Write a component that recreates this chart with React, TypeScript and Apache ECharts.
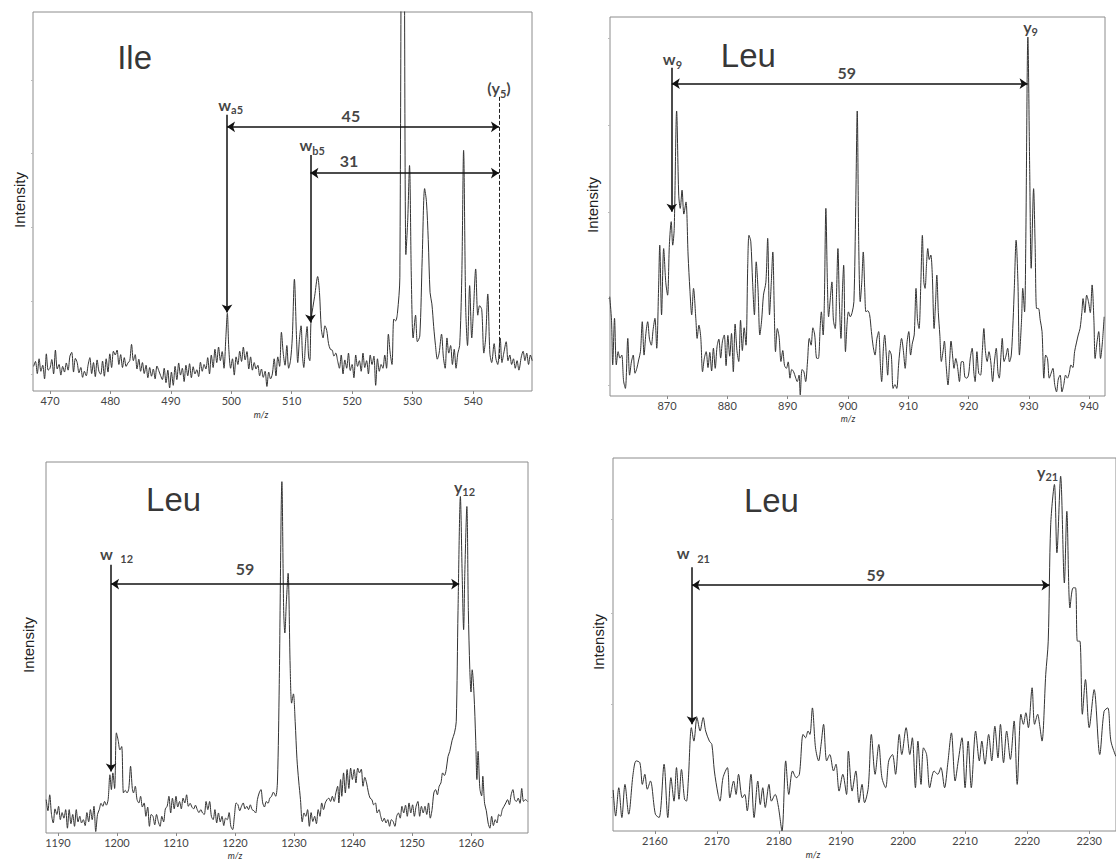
import React, { useEffect, useRef } from "react";
import * as echarts from "echarts";

// ---------- DATA ----------
// Panel A (Ile): m/z, relative intensity (0-100 of the frame height)
const ileSpectrum: [number, number][] = [
  [467.3, 6.5], [467.6, 7.8], [467.9, 4.6], [468.2, 8.5], [468.5, 5.2], [468.8, 6.8], [469.1, 3.2], [469.4, 9.8],
  [469.7, 5.5], [470.0, 6.0], [470.3, 8.3], [470.6, 4.5], [470.9, 10.8], [471.2, 5.8], [471.5, 7.0], [471.8, 4.2],
  [472.1, 6.5], [472.4, 5.0], [472.7, 7.4], [473.0, 5.5], [473.3, 9.2], [473.6, 10.2], [473.9, 5.0], [474.2, 8.6],
  [474.5, 7.5], [474.8, 4.8], [475.1, 6.2], [475.4, 3.6], [475.7, 5.2], [476.0, 4.0], [476.3, 6.8], [476.6, 8.8],
  [476.9, 4.6], [477.2, 7.5], [477.5, 3.8], [477.8, 8.2], [478.1, 5.2], [478.4, 4.4], [478.7, 7.9], [479.0, 3.9],
  [479.3, 8.5], [479.6, 5.0], [479.9, 9.8], [480.2, 6.2], [480.5, 10.5], [480.8, 9.5], [481.1, 10.8], [481.4, 7.0],
  [481.7, 9.6], [482.0, 6.2], [482.3, 8.8], [482.6, 6.5], [482.9, 7.4], [483.2, 8.0], [483.5, 12.3], [483.8, 8.0],
  [484.1, 9.6], [484.4, 5.8], [484.7, 8.4], [485.0, 5.2], [485.3, 7.5], [485.6, 4.6], [485.9, 6.8], [486.2, 3.5],
  [486.5, 6.2], [486.8, 3.9], [487.1, 5.8], [487.4, 3.2], [487.7, 6.6], [488.0, 5.4], [488.3, 4.1], [488.6, 3.0],
  [488.9, 6.0], [489.2, 2.2], [489.5, 5.5], [489.8, 0.8], [490.1, 5.0], [490.4, 1.5], [490.7, 6.5], [491.0, 3.0],
  [491.3, 7.4], [491.6, 4.2], [491.9, 6.0], [492.2, 2.5], [492.5, 6.8], [492.8, 4.0], [493.1, 7.2], [493.4, 3.5],
  [493.7, 6.4], [494.0, 4.5], [494.3, 5.6], [494.6, 3.8], [494.9, 7.6], [495.2, 5.2], [495.5, 7.0], [495.8, 5.8],
  [496.1, 8.8], [496.4, 4.5], [496.7, 9.5], [497.0, 6.2], [497.3, 11.0], [497.6, 7.5], [497.9, 11.6], [498.2, 8.0],
  [498.5, 10.4], [498.8, 6.0], [499.1, 14.0], [499.35, 20.5], [499.6, 11.0], [499.9, 6.0], [500.2, 8.5], [500.5, 4.2],
  [500.8, 9.0], [501.1, 7.0], [501.4, 10.5], [501.7, 7.8], [502.0, 11.6], [502.3, 8.2], [502.6, 10.4], [502.9, 5.8],
  [503.2, 9.0], [503.5, 5.5], [503.8, 7.5], [504.1, 5.8], [504.4, 6.8], [504.7, 4.0], [505.0, 5.8], [505.3, 3.6],
  [505.6, 5.2], [505.9, 1.2], [506.2, 5.0], [506.5, 3.2], [506.8, 4.5], [507.1, 8.5], [507.4, 4.0], [507.7, 9.0],
  [508.0, 6.5], [508.3, 15.5], [508.6, 10.0], [508.9, 6.8], [509.2, 12.0], [509.5, 6.0], [509.8, 8.0], [510.1, 14.0],
  [510.45, 29.5], [510.8, 14.0], [511.0, 7.5], [511.3, 14.0], [511.55, 17.2], [511.8, 9.0], [512.0, 6.2], [512.3, 13.0],
  [512.55, 17.0], [512.8, 9.0], [513.0, 8.0], [513.2, 18.5], [513.5, 22.0], [513.8, 25.0], [514.3, 30.2], [514.6, 26.0],
  [514.9, 16.5], [515.2, 14.0], [515.5, 17.2], [515.8, 16.0], [516.1, 12.5], [516.4, 11.0], [516.7, 10.8], [517.0, 9.2],
  [517.3, 10.0], [517.6, 8.0], [517.9, 6.0], [518.2, 9.5], [518.5, 4.5], [518.8, 8.2], [519.1, 6.0], [519.4, 10.0],
  [519.7, 5.4], [520.0, 7.0], [520.3, 3.5], [520.6, 9.5], [520.9, 6.5], [521.2, 8.0], [521.5, 5.2], [521.8, 10.0],
  [522.1, 6.2], [522.4, 8.0], [522.7, 4.5], [523.0, 9.5], [523.3, 7.0], [523.6, 9.2], [523.9, 1.5], [524.2, 8.5],
  [524.5, 5.2], [524.8, 7.0], [525.1, 6.0], [525.4, 9.5], [525.7, 6.0], [526.0, 15.0], [526.3, 10.0], [526.6, 7.0],
  [526.9, 19.0], [527.2, 18.5], [527.5, 20.5], [527.9, 30.0], [528.4, 250.0], [528.9, 36.0], [529.2, 45.0], [529.5, 59.5],
  [529.8, 30.0], [530.1, 14.0], [530.5, 20.0], [530.8, 13.0], [531.2, 14.5], [531.6, 35.0], [532.0, 53.4], [532.3, 50.0],
  [532.6, 40.0], [532.9, 26.0], [533.2, 23.0], [533.5, 17.0], [533.8, 12.0], [534.1, 8.4], [534.4, 10.0], [534.8, 15.0],
  [535.1, 9.0], [535.4, 6.0], [535.7, 14.0], [536.0, 10.0], [536.3, 12.0], [536.6, 7.0], [536.9, 11.0], [537.2, 6.0],
  [537.5, 10.0], [537.8, 12.0], [538.15, 30.0], [538.45, 63.5], [538.8, 22.0], [539.1, 12.0], [539.45, 27.8], [539.8, 14.0],
  [540.1, 22.0], [540.45, 32.2], [540.8, 20.0], [541.1, 22.5], [541.45, 21.5], [541.8, 10.0], [542.1, 14.0], [542.45, 25.6],
  [542.8, 10.0], [543.1, 7.5], [543.5, 12.5], [543.8, 8.5], [544.1, 7.0], [544.5, 14.0], [544.8, 7.5], [545.1, 10.0],
  [545.5, 13.0], [545.8, 8.0], [546.1, 9.5], [546.4, 7.0], [546.7, 8.5], [547.0, 6.0], [547.3, 8.0], [547.6, 5.5],
  [548.0, 9.0], [548.3, 10.5], [548.6, 8.0], [548.9, 10.0], [549.2, 7.0], [549.5, 9.5], [549.8, 8.0],
];

// Panel B (Leu, w9 / y9)
const leu9Spectrum: [number, number][] = [
  [860.5, 26.2], [860.8, 20.0], [861.0, 8.2], [861.3, 20.5], [861.6, 8.2], [861.9, 11.7], [862.2, 10.0], [862.5, 10.8],
  [862.8, 4.0], [863.1, 2.0], [863.5, 15.2], [863.8, 5.5], [864.1, 9.0], [864.4, 10.8], [864.7, 6.0], [865.0, 7.3],
  [865.3, 9.5], [865.6, 11.7], [865.9, 19.6], [866.2, 10.8], [866.5, 16.5], [866.8, 19.6], [867.1, 15.0], [867.4, 13.4],
  [867.7, 17.5], [868.0, 20.5], [868.3, 12.6], [868.6, 28.0], [868.8, 39.8], [869.1, 21.4], [869.45, 38.9], [869.8, 30.0],
  [870.1, 26.6], [870.4, 40.0], [870.7, 46.0], [870.95, 39.8], [871.2, 44.2], [871.6, 75.2], [871.95, 53.0], [872.2, 49.5],
  [872.5, 54.3], [872.8, 48.0], [873.15, 51.2], [873.5, 37.2], [873.8, 28.0], [874.1, 21.4], [874.4, 28.4], [874.8, 20.0],
  [875.0, 15.2], [875.3, 18.7], [875.6, 15.5], [875.9, 6.4], [876.2, 10.0], [876.5, 11.7], [876.8, 7.5], [877.1, 11.5],
  [877.4, 6.6], [877.7, 12.6], [878.0, 7.3], [878.3, 13.0], [878.6, 15.0], [878.9, 10.0], [879.2, 14.5], [879.5, 16.1],
  [879.8, 8.0], [880.1, 16.0], [880.4, 10.5], [880.7, 16.5], [881.0, 6.4], [881.3, 19.0], [881.6, 12.0], [881.9, 9.1],
  [882.2, 20.0], [882.5, 12.0], [882.8, 18.0], [883.1, 13.4], [883.4, 35.0], [883.6, 42.4], [883.9, 40.7], [884.2, 30.0],
  [884.5, 21.4], [884.8, 35.4], [885.1, 28.0], [885.4, 16.1], [885.7, 20.0], [886.0, 26.6], [886.4, 30.0], [886.7, 41.6],
  [887.0, 21.4], [887.3, 30.0], [887.55, 38.0], [887.8, 22.0], [888.0, 11.7], [888.3, 17.8], [888.6, 15.5], [888.9, 9.1],
  [889.2, 12.0], [889.5, 8.0], [889.8, 7.3], [890.1, 9.0], [890.4, 4.7], [890.7, 7.0], [891.0, 6.4], [891.3, 5.0],
  [891.6, 3.8], [891.9, 5.5], [892.1, 0.3], [892.4, 7.0], [892.7, 6.4], [893.0, 3.8], [893.3, 9.0], [893.6, 15.2],
  [893.9, 13.4], [894.2, 18.0], [894.5, 16.1], [894.8, 10.0], [895.1, 9.9], [895.4, 18.0], [895.6, 22.2], [895.9, 16.1],
  [896.1, 25.0], [896.35, 49.5], [896.6, 30.0], [896.8, 20.9], [897.1, 26.0], [897.35, 30.1], [897.6, 20.0], [897.9, 17.8],
  [898.1, 26.0], [898.35, 38.9], [898.6, 24.0], [898.85, 15.2], [899.1, 28.0], [899.3, 34.5], [899.6, 11.7], [899.9, 20.0],
  [900.1, 22.2], [900.4, 20.9], [900.7, 22.0], [901.0, 24.9], [901.3, 50.0], [901.55, 75.2], [901.8, 40.0], [902.05, 24.9],
  [902.3, 30.0], [902.55, 38.0], [902.8, 28.0], [903.0, 22.2], [903.3, 22.5], [903.6, 21.5], [903.9, 17.0], [904.2, 13.0],
  [904.5, 10.8], [904.8, 15.0], [905.1, 17.0], [905.4, 8.0], [905.6, 3.8], [905.9, 13.0], [906.1, 16.1], [906.4, 10.0],
  [906.6, 5.5], [906.9, 12.0], [907.2, 10.8], [907.5, 2.0], [907.8, 3.0], [908.1, 2.0], [908.4, 8.0], [908.6, 11.7],
  [908.9, 15.2], [909.2, 12.0], [909.5, 7.3], [909.8, 14.0], [910.1, 17.0], [910.4, 10.8], [910.7, 14.0], [911.0, 16.1],
  [911.3, 28.4], [911.55, 20.0], [911.8, 17.8], [912.1, 30.0], [912.35, 42.4], [912.6, 30.0], [912.8, 28.4], [913.05, 35.0],
  [913.25, 38.9], [913.5, 36.0], [913.75, 37.2], [914.0, 31.9], [914.3, 17.8], [914.55, 25.0], [914.75, 31.9], [915.0, 22.0],
  [915.25, 16.1], [915.5, 9.1], [915.8, 12.0], [916.0, 14.5], [916.3, 8.0], [916.6, 2.9], [916.9, 10.0], [917.1, 14.5],
  [917.4, 10.0], [917.6, 7.3], [917.9, 9.9], [918.2, 7.5], [918.5, 3.8], [918.8, 9.0], [919.1, 9.1], [919.4, 5.0],
  [919.7, 4.7], [920.0, 5.5], [920.3, 10.0], [920.6, 12.6], [920.9, 6.0], [921.1, 3.8], [921.4, 11.7], [921.7, 6.0],
  [922.0, 5.5], [922.3, 12.0], [922.55, 17.8], [922.8, 12.0], [923.1, 9.1], [923.4, 11.7], [923.7, 9.0], [924.0, 3.8],
  [924.3, 9.0], [924.6, 12.6], [924.9, 6.0], [925.1, 4.7], [925.4, 11.0], [925.6, 15.2], [925.9, 9.1], [926.2, 10.5],
  [926.5, 12.6], [926.8, 9.0], [927.1, 10.8], [927.4, 20.0], [927.6, 28.4], [927.9, 41.1], [928.2, 30.0], [928.45, 10.8],
  [928.8, 20.0], [929.0, 28.4], [929.3, 22.2], [929.5, 40.0], [929.85, 94.7], [930.15, 60.0], [930.4, 33.7], [930.8, 54.7],
  [931.05, 40.0], [931.3, 23.1], [931.6, 23.1], [931.9, 20.0], [932.2, 17.0], [932.5, 4.7], [932.8, 10.8], [933.1, 9.9],
  [933.4, 4.7], [933.7, 6.0], [934.0, 7.3], [934.3, 3.0], [934.6, 1.1], [934.9, 4.5], [935.2, 5.5], [935.5, 1.1],
  [935.8, 3.0], [936.1, 5.5], [936.4, 4.7], [936.7, 6.0], [937.0, 8.2], [937.3, 7.5], [937.6, 11.7], [937.9, 14.0],
  [938.2, 16.1], [938.5, 17.8], [938.8, 22.0], [939.0, 25.7], [939.3, 22.0], [939.6, 26.6], [939.9, 24.9], [940.2, 22.0],
  [940.5, 29.3], [940.8, 20.0], [941.0, 9.9], [941.3, 14.0], [941.6, 17.0], [941.9, 9.9], [942.2, 14.0], [942.5, 20.9],
];

// Panel C (Leu, w12 / y12)
const leu12Spectrum: [number, number][] = [
  [1188.0, 9.0], [1188.3, 6.0], [1188.6, 10.3], [1188.9, 5.0], [1189.2, 2.7], [1189.5, 6.5], [1189.8, 5.0], [1190.1, 7.2],
  [1190.4, 3.6], [1190.7, 5.5], [1191.0, 4.0], [1191.3, 6.3], [1191.6, 1.3], [1191.9, 6.3], [1192.2, 2.5], [1192.5, 5.0],
  [1192.8, 1.8], [1193.1, 6.3], [1193.4, 3.0], [1193.7, 4.5], [1194.0, 2.7], [1194.3, 3.6], [1194.6, 2.0], [1194.9, 5.5],
  [1195.2, 3.0], [1195.5, 6.3], [1195.8, 3.6], [1196.1, 7.2], [1196.4, 0.4], [1196.7, 5.0], [1197.0, 6.3], [1197.3, 8.0],
  [1197.6, 7.2], [1197.9, 8.5], [1198.2, 7.5], [1198.5, 9.0], [1198.8, 15.7], [1199.05, 11.7], [1199.3, 16.2], [1199.6, 12.0],
  [1199.9, 27.0], [1200.2, 25.0], [1200.5, 22.4], [1200.8, 23.3], [1201.1, 10.8], [1201.4, 11.5], [1201.7, 10.8], [1202.0, 12.0],
  [1202.3, 18.0], [1202.6, 12.0], [1202.8, 10.8], [1203.1, 12.6], [1203.4, 9.0], [1203.7, 8.1], [1204.0, 9.9], [1204.3, 7.0],
  [1204.6, 8.1], [1204.9, 4.5], [1205.2, 7.0], [1205.5, 1.8], [1205.8, 5.0], [1206.1, 4.5], [1206.4, 2.2], [1206.7, 5.0],
  [1207.0, 3.1], [1207.3, 1.8], [1207.6, 4.5], [1207.9, 3.0], [1208.2, 6.5], [1208.5, 7.2], [1208.8, 9.9], [1209.1, 5.4],
  [1209.4, 9.4], [1209.7, 6.5], [1210.0, 9.9], [1210.3, 7.0], [1210.6, 8.5], [1210.9, 6.5], [1211.2, 9.4], [1211.5, 8.1],
  [1211.8, 10.3], [1212.1, 7.2], [1212.4, 8.0], [1212.7, 7.0], [1213.0, 6.5], [1213.3, 7.5], [1213.6, 6.3], [1213.9, 5.5],
  [1214.2, 6.3], [1214.5, 5.4], [1214.8, 5.0], [1215.1, 8.5], [1215.4, 6.3], [1215.7, 8.5], [1216.0, 4.5], [1216.3, 3.6],
  [1216.6, 6.3], [1216.9, 2.7], [1217.2, 5.4], [1217.5, 3.0], [1217.8, 4.5], [1218.1, 2.0], [1218.4, 4.0], [1218.7, 3.6],
  [1219.0, 5.5], [1219.3, 1.8], [1219.6, 0.9], [1219.9, 4.5], [1220.2, 8.1], [1220.5, 7.6], [1220.8, 6.0], [1221.1, 7.2],
  [1221.4, 8.1], [1221.7, 6.5], [1222.0, 7.2], [1222.3, 6.3], [1222.6, 7.6], [1222.9, 6.3], [1223.2, 6.0], [1223.5, 5.4],
  [1223.8, 9.0], [1224.1, 10.8], [1224.4, 11.7], [1224.7, 8.1], [1225.0, 7.0], [1225.3, 8.5], [1225.6, 8.0], [1225.9, 9.4],
  [1226.2, 9.9], [1226.5, 11.0], [1226.9, 9.9], [1227.2, 14.0], [1227.5, 40.0], [1227.95, 94.7], [1228.25, 60.0], [1228.45, 53.9],
  [1228.7, 62.0], [1229.0, 70.0], [1229.35, 45.0], [1229.6, 35.0], [1229.9, 37.5], [1230.2, 30.0], [1230.5, 20.0], [1230.8, 14.0],
  [1231.1, 9.0], [1231.4, 3.0], [1231.7, 5.4], [1232.0, 4.5], [1232.3, 6.3], [1232.6, 1.8], [1232.9, 5.5], [1233.2, 3.1],
  [1233.5, 4.5], [1233.8, 2.5], [1234.1, 6.3], [1234.4, 4.5], [1234.7, 8.1], [1235.0, 6.3], [1235.3, 8.1], [1235.6, 9.0],
  [1235.9, 9.4], [1236.2, 8.5], [1236.5, 9.9], [1236.8, 8.5], [1237.1, 10.8], [1237.4, 12.6], [1237.6, 8.1], [1237.9, 14.4],
  [1238.1, 9.9], [1238.4, 16.2], [1238.7, 10.8], [1239.0, 17.1], [1239.3, 12.0], [1239.6, 17.5], [1239.9, 14.4], [1240.2, 17.1],
  [1240.5, 13.5], [1240.8, 17.5], [1241.1, 16.2], [1241.4, 17.2], [1241.7, 12.6], [1242.0, 15.0], [1242.3, 13.5], [1242.6, 11.0],
  [1242.9, 9.4], [1243.2, 9.0], [1243.5, 7.6], [1243.8, 8.1], [1244.1, 5.4], [1244.4, 6.3], [1244.7, 4.5], [1245.0, 3.1],
  [1245.3, 4.0], [1245.6, 2.7], [1245.9, 3.6], [1246.2, 1.8], [1246.5, 3.6], [1246.8, 3.1], [1247.1, 1.8], [1247.4, 4.5],
  [1247.7, 5.4], [1248.0, 4.0], [1248.3, 7.2], [1248.6, 5.4], [1248.9, 7.5], [1249.2, 4.5], [1249.5, 8.1], [1249.8, 5.4],
  [1250.1, 7.6], [1250.4, 4.5], [1250.7, 7.2], [1251.0, 8.5], [1251.3, 4.5], [1251.6, 7.2], [1251.9, 5.4], [1252.2, 7.2],
  [1252.5, 5.0], [1252.8, 8.1], [1253.1, 4.0], [1253.4, 6.3], [1253.7, 10.8], [1254.0, 11.7], [1254.3, 10.3], [1254.6, 12.6],
  [1254.9, 13.5], [1255.2, 16.2], [1255.5, 15.5], [1255.8, 17.1], [1256.1, 20.6], [1256.4, 22.0], [1256.8, 25.0], [1257.2, 27.0],
  [1257.5, 30.0], [1257.8, 60.0], [1258.2, 90.7], [1258.5, 70.0], [1258.75, 54.8], [1258.95, 70.0], [1259.3, 88.0], [1259.55, 60.0],
  [1259.8, 44.0], [1260.0, 38.0], [1260.2, 44.0], [1260.5, 37.7], [1260.8, 25.0], [1261.0, 14.4], [1261.2, 22.0], [1261.5, 12.0],
  [1261.8, 10.0], [1262.0, 15.3], [1262.3, 8.0], [1262.6, 6.0], [1262.9, 2.7], [1263.2, 1.3], [1263.5, 4.5], [1263.8, 2.0],
  [1264.1, 3.6], [1264.4, 2.7], [1264.7, 5.0], [1265.0, 4.5], [1265.3, 6.3], [1265.6, 7.2], [1265.9, 8.1], [1266.2, 9.0],
  [1266.5, 7.6], [1266.8, 10.3], [1267.1, 11.7], [1267.4, 9.0], [1267.7, 8.5], [1268.0, 9.4], [1268.3, 8.0], [1268.6, 12.0],
  [1268.9, 8.5], [1269.2, 9.0], [1269.6, 8.5],
];

// Panel D (Leu, w21 / y21)
const leu21Spectrum: [number, number][] = [
  [2153.3, 11.0], [2153.7, 4.0], [2154.2, 11.6], [2154.7, 3.6], [2155.2, 12.5], [2155.8, 4.5], [2156.5, 15.2], [2157.0, 18.8],
  [2157.6, 18.3], [2158.0, 12.5], [2158.4, 15.2], [2158.8, 11.2], [2159.3, 13.4], [2160.1, 4.5], [2160.7, 3.6], [2161.5, 17.9],
  [2162.1, 3.6], [2162.6, 14.3], [2163.1, 8.0], [2163.5, 17.0], [2163.9, 8.5], [2164.3, 16.5], [2164.8, 8.5], [2165.1, 8.0],
  [2165.4, 13.4], [2165.9, 27.7], [2166.3, 24.1], [2166.8, 30.4], [2167.3, 26.8], [2167.8, 30.4], [2168.2, 26.8], [2168.8, 24.1],
  [2169.2, 23.2], [2169.6, 16.1], [2170.2, 9.8], [2170.5, 8.0], [2171.0, 14.3], [2171.7, 17.0], [2172.1, 8.9], [2172.7, 13.4],
  [2173.1, 9.8], [2173.5, 15.2], [2174.1, 8.9], [2174.5, 9.8], [2174.9, 5.4], [2175.5, 15.2], [2176.0, 3.6], [2176.6, 13.4],
  [2177.0, 7.1], [2177.4, 11.6], [2177.8, 6.3], [2178.4, 12.5], [2178.8, 8.0], [2179.4, 9.8], [2179.9, 6.7], [2180.5, 0.0],
  [2181.1, 18.8], [2181.6, 9.8], [2182.2, 16.1], [2182.8, 14.3], [2183.3, 15.2], [2183.9, 25.9], [2184.3, 25.0], [2184.7, 26.8],
  [2185.0, 25.9], [2185.4, 33.0], [2185.9, 22.3], [2186.4, 18.8], [2186.8, 23.2], [2187.2, 28.6], [2187.7, 18.8], [2188.2, 20.5],
  [2188.8, 16.1], [2189.2, 17.9], [2189.7, 10.7], [2190.3, 15.2], [2190.9, 9.8], [2191.2, 21.4], [2191.8, 10.7], [2192.4, 16.1],
  [2192.9, 7.6], [2193.4, 12.5], [2193.8, 7.6], [2194.4, 11.6], [2194.9, 25.9], [2195.5, 15.2], [2196.1, 23.2], [2196.6, 14.3],
  [2197.2, 11.6], [2197.7, 18.8], [2198.3, 20.5], [2198.8, 15.2], [2199.4, 25.9], [2199.8, 20.5], [2200.5, 27.7], [2201.1, 20.5],
  [2201.5, 25.0], [2202.0, 11.6], [2202.4, 24.1], [2202.9, 12.5], [2203.3, 22.3], [2203.8, 20.5], [2204.3, 11.6], [2205.0, 16.1],
  [2205.6, 15.2], [2206.1, 17.0], [2206.7, 11.6], [2207.2, 17.9], [2207.8, 26.3], [2208.4, 13.4], [2208.9, 18.8], [2209.5, 25.0],
  [2210.0, 11.6], [2210.5, 24.1], [2211.0, 11.6], [2211.7, 26.8], [2212.3, 18.8], [2212.7, 24.1], [2213.2, 17.9], [2213.8, 25.9],
  [2214.3, 18.8], [2214.8, 28.1], [2215.3, 19.6], [2215.7, 28.6], [2216.2, 18.3], [2216.7, 26.8], [2217.3, 19.2], [2217.9, 29.5],
  [2218.4, 12.5], [2219.0, 31.3], [2219.4, 28.6], [2219.8, 31.7], [2220.2, 27.7], [2220.8, 38.4], [2221.2, 28.6], [2221.7, 31.3],
  [2222.0, 28.6], [2222.4, 24.1], [2223.0, 42.0], [2223.4, 50.9], [2223.8, 82.1], [2224.4, 92.9], [2224.8, 74.6], [2225.4, 95.1],
  [2226.0, 66.5], [2226.4, 85.7], [2226.9, 59.8], [2227.4, 65.2], [2227.8, 65.2], [2228.1, 50.9], [2228.5, 50.9], [2228.9, 31.3],
  [2229.4, 40.6], [2230.0, 27.7], [2230.8, 37.9], [2231.7, 20.5], [2232.4, 32.1], [2233.0, 33.0], [2233.5, 24.1], [2234.3, 20.0],
];

// axis tick labels (m/z)
const ileTicks = [470, 480, 490, 500, 510, 520, 530, 540];
const leu9Ticks = [870, 880, 890, 900, 910, 920, 930, 940];
const leu12Ticks = [1190, 1200, 1210, 1220, 1230, 1240, 1250, 1260];
const leu21Ticks = [2160, 2170, 2180, 2190, 2200, 2210, 2220, 2230];

// faint intensity ticks on the left frame
const ileYTicks = [4.4, 23.8, 43.2, 62.6, 82];
const leu9YTicks = [2.9, 25.7, 48.6, 71.4, 94.3];
const leu12YTicks: number[] = [];
const leu21YTicks = [9.1, 33.9, 58.5, 83.5];

// annotations: [x1, y1, x2, y2, startSymbol, endSymbol, dashed]
type Arrow = [number, number, number, number, string, string, boolean];
const ileArrows: Arrow[] = [
  [499.3, 72.9, 499.3, 20.7, "none", "arrow", false],
  [513.1, 62.3, 513.1, 18.1, "none", "arrow", false],
  [499.3, 69.7, 544.3, 69.7, "arrow", "arrow", false],
  [513.1, 57.5, 544.3, 57.5, "arrow", "arrow", false],
  [544.3, 77.6, 544.3, 7.9, "none", "none", true],
];
const leu9Arrows: Arrow[] = [
  [870.8, 86.6, 870.8, 48.6, "none", "arrow", false],
  [870.8, 82.4, 929.8, 82.4, "arrow", "arrow", false],
];
const leu12Arrows: Arrow[] = [
  [1199.0, 72.3, 1199.0, 16.6, "none", "arrow", false],
  [1199.0, 67.1, 1258.0, 67.1, "arrow", "arrow", false],
];
const leu21Arrows: Arrow[] = [
  [2166.0, 70.7, 2166.0, 28.6, "none", "arrow", false],
  [2166.0, 65.9, 2223.6, 65.9, "arrow", "arrow", false],
];

// text labels: [x, y, rich text, kind]
type Note = [number, number, string, string];
const ileNotes: Note[] = [
  [484, 88, "Ile", "title"],
  [499.9, 75.6, "{b|w}{s|a5}", "ion"],
  [513.4, 65.0, "{b|w}{s|b5}", "ion"],
  [544.3, 80.0, "{b|(y}{s|5}{b|)}", "ion"],
  [519.8, 72.8, "{b|45}", "ion"],
  [519.5, 60.7, "{b|31}", "ion"],
];
const leu9Notes: Note[] = [
  [883.5, 89.9, "Leu", "title"],
  [870.9, 89.0, "{b|w}{s|9}", "ion"],
  [930.3, 97.6, "{b|y}{s|9}", "ion"],
  [899.8, 85.3, "{b|59}", "ion"],
];
const leu12Notes: Note[] = [
  [1209.6, 89.8, "Leu", "title"],
  [1199.9, 75.4, "{b|w  }{s|12}", "ion"],
  [1258.9, 93.4, "{b|y}{s|12}", "ion"],
  [1221.7, 71.4, "{b|59}", "ion"],
];
const leu21Notes: Note[] = [
  [2178.8, 88.6, "Leu", "title"],
  [2166.2, 74.6, "{b|w  }{s|21}", "ion"],
  [2223.3, 96.4, "{b|y}{s|21}", "ion"],
  [2195.6, 68.9, "{b|59}", "ion"],
];

// ---------- LAYOUT ----------
const panels = [
  { grid: { left: 33, top: 12, width: 499, height: 379 }, min: 467.19, max: 549.77, ticks: ileTicks, yTicks: ileYTicks, data: ileSpectrum, arrows: ileArrows, notes: ileNotes, ylab: [19, 200], xlab: [261, 414] },
  { grid: { left: 610, top: 17, width: 495, height: 379 }, min: 860.55, max: 942.64, ticks: leu9Ticks, yTicks: leu9YTicks, data: leu9Spectrum, arrows: leu9Arrows, notes: leu9Notes, ylab: [592, 205], xlab: [848, 418] },
  { grid: { left: 46, top: 462, width: 482, height: 371 }, min: 1187.97, max: 1269.66, ticks: leu12Ticks, yTicks: leu12YTicks, data: leu12Spectrum, arrows: leu12Arrows, notes: leu12Notes, ylab: [28, 645], xlab: [235, 855] },
  { grid: { left: 613, top: 458, width: 506, height: 373 }, min: 2153.27, max: 2234.32, ticks: leu21Ticks, yTicks: leu21YTicks, data: leu21Spectrum, arrows: leu21Arrows, notes: leu21Notes, ylab: [598, 642], xlab: [813, 854] },
];

const rich = {
  b: { fontSize: 16, fontWeight: "bold", fontFamily: "Lato", color: "#111", lineHeight: 22, verticalAlign: "middle" },
  s: { fontSize: 11, fontWeight: "bold", fontFamily: "Lato", color: "#111", lineHeight: 11, verticalAlign: "bottom" },
};

function buildOption() {
  const grid: any[] = [];
  const xAxis: any[] = [];
  const yAxis: any[] = [];
  const series: any[] = [];
  const graphic: any[] = [];
  panels.forEach((p, i) => {
    grid.push({ ...p.grid, show: true, borderColor: "#8c8c8c", borderWidth: 1, backgroundColor: "transparent" });
    xAxis.push({
      type: "value", gridIndex: i, min: p.min, max: p.max,
      axisLine: { show: false }, splitLine: { show: false },
      axisTick: { show: true, customValues: p.ticks, length: 3, lineStyle: { color: "#888" } },
      axisLabel: {
        show: true, customValues: p.ticks, margin: 4, fontSize: 11, color: "#444", fontFamily: "Lato",
        formatter: (v: number) => String(Math.round(v)),
      },
    });
    yAxis.push({
      type: "value", gridIndex: i, min: 0, max: 100,
      axisLine: { show: false }, splitLine: { show: false }, axisLabel: { show: false },
      axisTick: { show: p.yTicks.length > 0, customValues: p.yTicks, length: 2, lineStyle: { color: "#bbb" } },
    });
    series.push({
      type: "line", xAxisIndex: i, yAxisIndex: i, data: p.data, showSymbol: false, symbol: "none",
      smooth: 0.3, clip: true, silent: true,
      lineStyle: { color: "#333", width: 1 },
      markLine: {
        silent: true, symbolSize: 8, precision: 4,
        label: { show: false },
        lineStyle: { color: "#111", width: 1.5, type: "solid" },
        emphasis: { disabled: true },
        data: p.arrows.map((a) => {
          const ls = a[6] ? { type: "dashed", width: 1, color: "#222" } : { type: "solid", width: 1.5, color: "#111" };
          return [
            { coord: [a[0], a[1]], symbol: a[4], lineStyle: ls },
            { coord: [a[2], a[3]], symbol: a[5], lineStyle: ls },
          ];
        }),
      },
    });
    series.push({
      type: "scatter", xAxisIndex: i, yAxisIndex: i, symbolSize: 0, silent: true, z: 5,
      data: p.notes.map((n) => ({
        value: [n[0], n[1]],
        label: n[3] === "title"
          ? { show: true, position: "inside", formatter: n[2], fontSize: 33, fontFamily: "Liberation Sans", color: "#000" }
          : { show: true, position: "inside", formatter: n[2], rich },
      })),
    });
    graphic.push({
      type: "text", x: p.ylab[0], y: p.ylab[1], rotation: Math.PI / 2, silent: true,
      style: { text: "Intensity", fontSize: 15, fontFamily: "Liberation Sans", fill: "#222", align: "center", verticalAlign: "middle" },
    });
    graphic.push({
      type: "text", x: p.xlab[0], y: p.xlab[1], silent: true,
      style: { text: "m/z", fontSize: 9, fontStyle: "italic", fontFamily: "Lato", fill: "#333", align: "center", verticalAlign: "middle" },
    });
  });
  return { animation: false, backgroundColor: "#fff", grid, xAxis, yAxis, series, graphic };
}

export default function App() {
  const ref = useRef<HTMLDivElement>(null);
  useEffect(() => {
    const chart = echarts.init(ref.current!, null, { renderer: "svg" });
    chart.setOption(buildOption() as any);
    return () => chart.dispose();
  }, []);
  return <div ref={ref} style={{ position: "fixed", left: 0, top: 0, width: 1116, height: 859, background: "#fff" }} />;
}
